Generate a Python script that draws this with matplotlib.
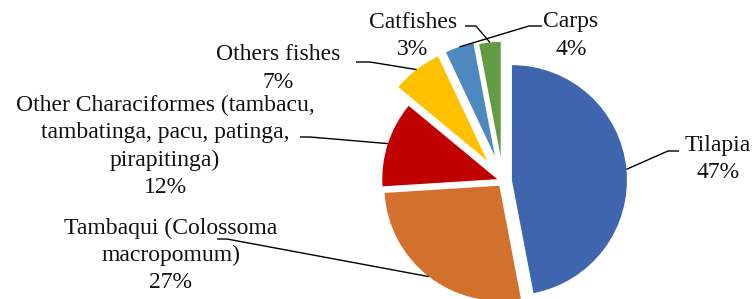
import numpy as np
import matplotlib
matplotlib.use("Agg")
import matplotlib.pyplot as plt

categories = ["Tilapia", "Tambaqui (Colossoma\nmacropomum)",
              "Other Characiformes (tambacu,\ntambatinga, pacu, patinga,\npirapitinga)",
              "Others fishes", "Carps", "Catfishes"]
values = [47, 27, 12, 7, 4, 3]
pct_labels = ["47%", "27%", "12%", "7%", "4%", "3%"]
colors = ["#3E65AD", "#D2712D", "#C00000", "#FFC000", "#4E88C0", "#619B43"]
explode_frac = [0.078, 0.052, 0.052, 0.226, 0.226, 0.21]

W, H = 755, 299
fig = plt.figure(figsize=(W / 100, H / 100), dpi=100)
ax = fig.add_axes([0, 0, 1, 1])

R = 115
center = (503, H - 181)
explode = [e * R for e in explode_frac]
wedges, _ = ax.pie(values, colors=colors, explode=explode, startangle=90,
                   counterclock=False, radius=R, center=center,
                   wedgeprops=dict(linewidth=0), frame=True)
ax.set_xlim(0, W)
ax.set_ylim(0, H)
ax.axis("off")

# label layout (image pixel coords: text centre x, first-line centre y), leader elbow points
label_pos = [(718, 145), (171, 228), (165, 105), (278, 55), (571, 22), (413, 22)]
leader_pts = [
    [(679, 151), (668, 151)],
    [(217, 239), (227, 239)],
    [(300, 137), (310, 137)],
    [(356, 62), (370, 62)],
    [(542, 26), (529, 26)],
    [(465, 26), (476, 26)],
]

font = dict(family="Liberation Serif", size=17, color="#111111")
line_px = 27.5
for w, cat, pct, (tx, ty), pts in zip(wedges, categories, pct_labels, label_pos, leader_pts):
    lines = cat.split("\n") + [pct]
    for i, ln in enumerate(lines):
        ax.text(tx, H - (ty + i * line_px), ln, ha="center", va="center", **font)
    mid = np.deg2rad((w.theta1 + w.theta2) / 2)
    cx, cy = w.center
    ex, ey = cx + w.r * np.cos(mid), cy + w.r * np.sin(mid)
    xs = [p[0] for p in pts] + [ex]
    ys = [H - p[1] for p in pts] + [ey]
    ax.plot(xs, ys, color="black", lw=1.0, solid_capstyle="butt")

fig.savefig("out.png", dpi=100)
